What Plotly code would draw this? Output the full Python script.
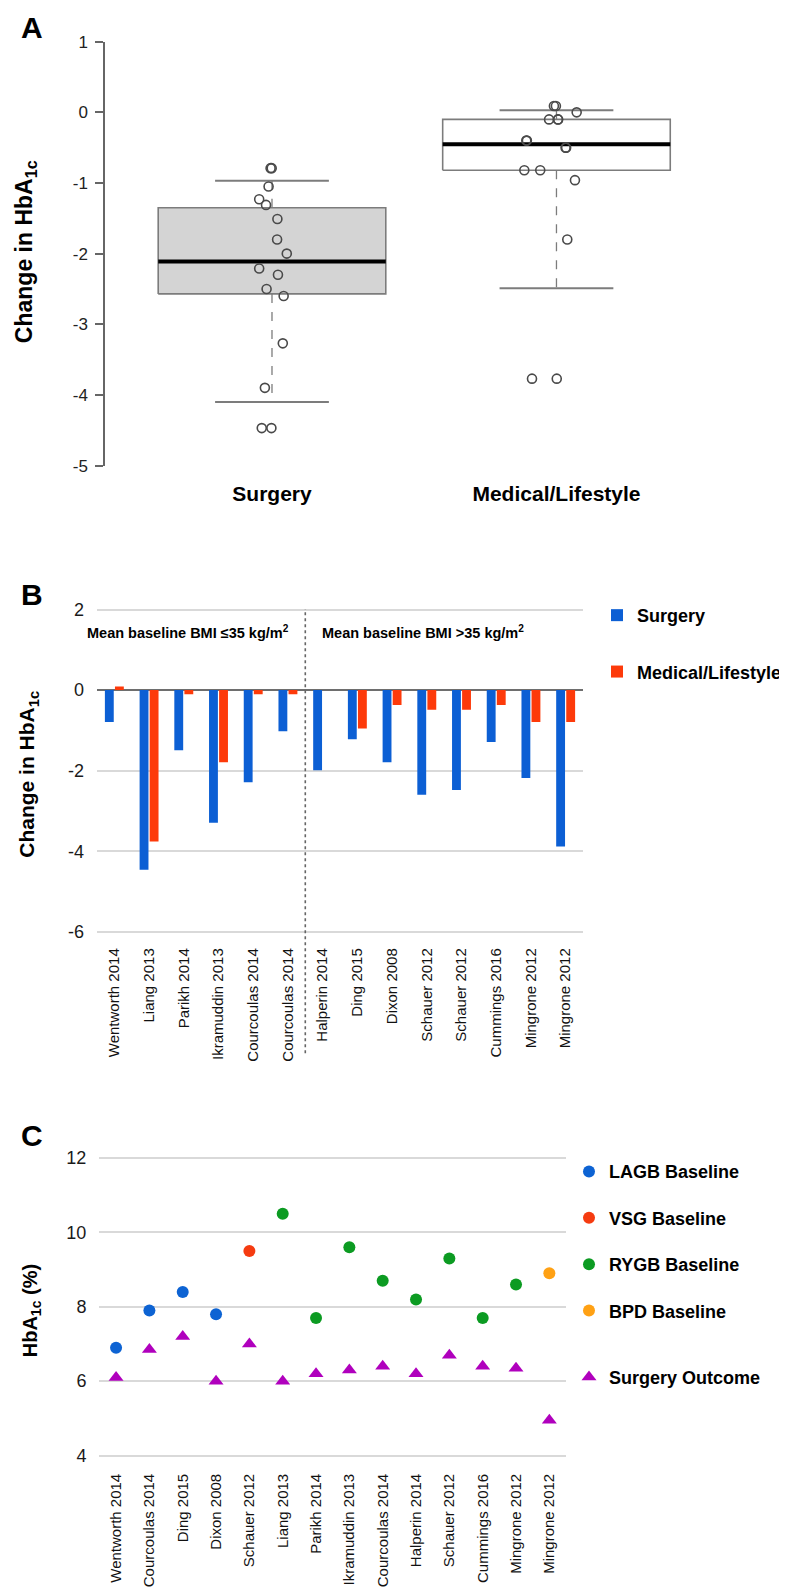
import plotly.graph_objects as go

PAGE_W, PAGE_H = 787, 1590
BODY_MARGIN = 8  # default page margin around the plot div
W, H = PAGE_W - BODY_MARGIN, PAGE_H - BODY_MARGIN

# ---------------- Panel A data ----------------
groups_a = ["Surgery", "Medical/Lifestyle"]
q1_a = [-2.57, -0.82]
median_a = [-2.11, -0.45]
q3_a = [-1.35, -0.10]
lower_whisker_a = [-4.10, -2.49]
upper_whisker_a = [-0.97, 0.03]
surgery_points = [-0.79, -0.79, -1.05, -1.23, -1.31, -1.51, -1.80, -2.00,
                  -2.21, -2.30, -2.50, -2.60, -3.27, -3.90, -4.47, -4.47]
surgery_jitter = [-0.005, -0.001, -0.012, -0.045, -0.021, 0.019, 0.018, 0.052,
                  -0.045, 0.021, -0.019, 0.041, 0.038, -0.025, -0.036, -0.002]
medical_points = [0.09, 0.09, 0.00, -0.10, -0.10, -0.10, -0.40, -0.40,
                  -0.50, -0.50, -0.82, -0.82, -0.96, -1.80, -3.77, -3.77]
medical_jitter = [-0.009, -0.002, 0.071, -0.026, 0.005, 0.006, -0.106, -0.104,
                  0.032, 0.034, -0.113, -0.057, 0.065, 0.038, -0.086, 0.001]
ticks_a = [1, 0, -1, -2, -3, -4, -5]

# ---------------- Panel B data ----------------
studies_b = ["Wentworth 2014", "Liang 2013", "Parikh 2014", "Ikramuddin 2013",
             "Courcoulas 2014", "Courcoulas 2014", "Halperin 2014", "Ding 2015",
             "Dixon 2008", "Schauer 2012", "Schauer 2012", "Cummings 2016",
             "Mingrone 2012", "Mingrone 2012"]
surgery_b = [-0.79, -4.46, -1.49, -3.29, -2.29, -1.02, -1.99, -1.22,
             -1.79, -2.60, -2.48, -1.29, -2.18, -3.88]
medical_b = [0.09, -3.76, -0.10, -1.79, -0.10, -0.10, None, -0.95,
             -0.37, -0.49, -0.49, -0.37, -0.79, -0.79]
n_low_bmi = 6
ticks_b = [2, 0, -2, -4, -6]

# ---------------- Panel C data ----------------
studies_c = ["Wentworth 2014", "Courcoulas 2014", "Ding 2015", "Dixon 2008",
             "Schauer 2012", "Liang 2013", "Parikh 2014", "Ikramuddin 2013",
             "Courcoulas 2014", "Halperin 2014", "Schauer 2012", "Cummings 2016",
             "Mingrone 2012", "Mingrone 2012"]
procedure_c = ["LAGB", "LAGB", "LAGB", "LAGB", "VSG", "RYGB", "RYGB", "RYGB",
               "RYGB", "RYGB", "RYGB", "RYGB", "RYGB", "BPD"]
baseline_c = [6.9, 7.9, 8.4, 7.8, 9.5, 10.5, 7.7, 9.6, 8.7, 8.2, 9.3, 7.7, 8.6, 8.9]
outcome_c = [6.1, 6.85, 7.2, 6.0, 7.0, 6.0, 6.2, 6.3, 6.4, 6.2, 6.7, 6.4, 6.35, 4.95]
procedures = ["LAGB", "VSG", "RYGB", "BPD"]
ticks_c = [12, 10, 8, 6, 4]

# ---------------- styles ----------------
FONT = "Liberation Sans, Arial, Helvetica, sans-serif"
NARROW = "Liberation Sans Narrow, Arial Narrow, Liberation Sans, Arial, sans-serif"
BLUE = "#0c5fd4"
RED = "#fd3a0a"
proc_colors = {"LAGB": "#0d63d3", "VSG": "#f53b10", "RYGB": "#0c9b22", "BPD": "#ffa114"}
MAGENTA = "#b000bd"
BOX_HALF = 0.40
CAP_HALF = 0.20


def px_x(p):
    """page pixel -> paper fraction"""
    return (p - BODY_MARGIN) / W


def px_y(p):
    return 1 - (p - BODY_MARGIN) / H


fig = go.Figure()

# ---------------- Panel A: box plots ----------------
box_fills = ["#d4d4d4", "#ffffff"]
for i in range(len(groups_a)):
    c = i
    fig.add_trace(go.Scatter(
        x=[c - BOX_HALF, c + BOX_HALF, c + BOX_HALF, c - BOX_HALF, c - BOX_HALF],
        y=[q1_a[i], q1_a[i], q3_a[i], q3_a[i], q1_a[i]],
        mode="lines", fill="toself", fillcolor=box_fills[i],
        line=dict(color="#7c7c7c", width=1.6), showlegend=False, hoverinfo="skip",
        xaxis="x", yaxis="y"))
    fig.add_trace(go.Scatter(
        x=[c, c, None, c, c],
        y=[q1_a[i], lower_whisker_a[i], None, q3_a[i], upper_whisker_a[i]],
        mode="lines", line=dict(color="#7c7c7c", width=1.3, dash="dash"),
        showlegend=False, hoverinfo="skip", xaxis="x", yaxis="y"))
    fig.add_trace(go.Scatter(
        x=[c - CAP_HALF, c + CAP_HALF, None, c - CAP_HALF, c + CAP_HALF],
        y=[lower_whisker_a[i], lower_whisker_a[i], None, upper_whisker_a[i], upper_whisker_a[i]],
        mode="lines", line=dict(color="#7c7c7c", width=2),
        showlegend=False, hoverinfo="skip", xaxis="x", yaxis="y"))
    fig.add_trace(go.Scatter(
        x=[c - BOX_HALF, c + BOX_HALF], y=[median_a[i], median_a[i]],
        mode="lines", line=dict(color="#000000", width=4),
        showlegend=False, hoverinfo="skip", xaxis="x", yaxis="y"))

for i, (pts, jit) in enumerate([(surgery_points, surgery_jitter), (medical_points, medical_jitter)]):
    fig.add_trace(go.Scatter(
        x=[i + j for j in jit], y=pts, mode="markers",
        marker=dict(symbol="circle-open", size=9, color="#4a4a4a", line=dict(width=1.6)),
        showlegend=False, xaxis="x", yaxis="y"))

# ---------------- Panel B: grouped bars ----------------
idx_b = list(range(len(studies_b)))
fig.add_trace(go.Bar(x=idx_b, y=surgery_b, name="Surgery", marker=dict(color=BLUE, line=dict(width=0)),
                     xaxis="x2", yaxis="y2", legend="legend", legendgroup="s"))
fig.add_trace(go.Bar(x=idx_b, y=medical_b, name="Medical/Lifestyle", marker=dict(color=RED, line=dict(width=0)),
                     xaxis="x2", yaxis="y2", legend="legend", legendgroup="m"))

# ---------------- Panel C: scatter ----------------
for proc in procedures:
    idx = [k for k, p in enumerate(procedure_c) if p == proc]
    fig.add_trace(go.Scatter(
        x=idx, y=[baseline_c[k] for k in idx], mode="markers", name=f"{proc} Baseline",
        marker=dict(symbol="circle", size=12, color=proc_colors[proc]),
        xaxis="x3", yaxis="y3", legend="legend2", legendgroup=proc))
fig.add_trace(go.Scatter(
    x=list(range(len(studies_c))), y=outcome_c, mode="markers", name="Surgery Outcome",
    marker=dict(symbol="triangle-up", size=13, color=MAGENTA),
    xaxis="x3", yaxis="y3", legend="legend3"))

# ---------------- layout ----------------
tick_font_big = dict(family=FONT, size=18, color="#1a1a1a")
legend_font = dict(family=FONT, size=18, color="#000", weight="bold")
fig.update_layout(
    width=W, height=H, autosize=False,
    margin=dict(l=0, r=0, t=0, b=0),
    paper_bgcolor="white", plot_bgcolor="white",
    barmode="group", bargap=0.42, bargroupgap=0.12,
    font=dict(family=FONT, color="#111111"),
    # Panel A axes
    xaxis=dict(domain=[px_x(105), px_x(730)], range=[-0.587, 1.61],
               tickvals=[0, 1], ticktext=[f"<b>{g}</b>" for g in groups_a],
               tickfont=dict(family=FONT, size=21, color="#000"),
               ticks="outside", ticklen=9, tickcolor="rgba(0,0,0,0)",
               showline=False, showgrid=False, zeroline=False, anchor="y"),
    yaxis=dict(domain=[px_y(462), px_y(33)], range=[-5, 1],
               tickvals=ticks_a, ticktext=[str(t) for t in ticks_a],
               tickfont=dict(family=NARROW, size=17, color="#222"),
               ticks="outside", ticklen=8, tickwidth=1.5, tickcolor="#666",
               showline=True, linecolor="#666", linewidth=1.5,
               showgrid=False, zeroline=False, anchor="x", ticklabelstandoff=4),
    # Panel B axes
    xaxis2=dict(domain=[px_x(97), px_x(583)], range=[-0.5, len(studies_b) - 0.5],
                tickvals=idx_b, ticktext=studies_b, tickangle=-90,
                tickfont=dict(family=FONT, size=15, color="#111"),
                ticks="", showline=False, showgrid=False, zeroline=False,
                anchor="y2", ticklabelstandoff=10),
    yaxis2=dict(domain=[px_y(936.4), px_y(605.3)], range=[-6.06, 2.06],
                tickvals=ticks_b, ticktext=[str(t) for t in ticks_b],
                tickfont=tick_font_big, showgrid=True, gridcolor="#d9d9d9", gridwidth=2,
                zeroline=True, zerolinecolor="#6e6e6e", zerolinewidth=2,
                showline=False, anchor="x2", ticklabelstandoff=12),
    # Panel C axes
    xaxis3=dict(domain=[px_x(99.4), px_x(566)], range=[-0.5, len(studies_c) - 0.5],
                tickvals=list(range(len(studies_c))), ticktext=studies_c, tickangle=-90,
                tickfont=dict(family=FONT, size=15, color="#111"),
                ticks="", showline=False, showgrid=False, zeroline=False,
                anchor="y3", ticklabelstandoff=12),
    yaxis3=dict(domain=[px_y(1466.3), px_y(1160.7)], range=[3.94, 12.06],
                tickvals=ticks_c, ticktext=[str(t) for t in ticks_c],
                tickfont=tick_font_big, showgrid=True, gridcolor="#d9d9d9", gridwidth=2,
                zeroline=False, showline=False, anchor="x3", ticklabelstandoff=12),
    legend=dict(x=px_x(597), y=px_y(595), xanchor="left", yanchor="top",
                font=legend_font, tracegroupgap=30, bgcolor="rgba(0,0,0,0)", borderwidth=0),
    legend2=dict(x=px_x(569), y=px_y(1158), xanchor="left", yanchor="top",
                 font=legend_font, tracegroupgap=20, bgcolor="rgba(0,0,0,0)", borderwidth=0,
                 itemsizing="constant"),
    legend3=dict(x=px_x(569), y=px_y(1366), xanchor="left", yanchor="top",
                 font=legend_font, bgcolor="rgba(0,0,0,0)", borderwidth=0),
)

# divider between BMI groups in panel B
fig.add_shape(type="line", xref="x2", yref="y2 domain",
              x0=n_low_bmi - 0.5, x1=n_low_bmi - 0.5, y0=-0.364, y1=0.994,
              line=dict(color="#666", width=1.6, dash="dot"))

annotations = [
    dict(text="<b>A</b>", x=px_x(32), y=px_y(19)),
    dict(text="<b>B</b>", x=px_x(32), y=px_y(593)),
    dict(text="<b>C</b>", x=px_x(32), y=px_y(1140)),
]
for a in annotations:
    a.update(xref="paper", yref="paper", showarrow=False, xanchor="center", yanchor="middle",
             font=dict(family=FONT, size=30, color="#000"))
    fig.add_annotation(**a)

ytitles = [
    ("<b>Change in HbA<sub>1c</sub></b>", 25, 246, 23),
    ("<b>Change in HbA<sub>1c</sub></b>", 28, 775, 21),
    ("<b>HbA<sub>1c</sub> (%)</b>", 31, 1318, 20),
]
for txt, xx, yy, fs in ytitles:
    fig.add_annotation(text=txt, x=px_x(xx), y=px_y(yy), xref="paper", yref="paper",
                       showarrow=False, textangle=-90, xanchor="center", yanchor="middle",
                       font=dict(family=FONT, size=fs, color="#000"))

fig.add_annotation(text="<b>Mean baseline BMI ≤35 kg/m<sup>2</sup></b>", x=px_x(188), y=px_y(630),
                   xref="paper", yref="paper", showarrow=False, xanchor="center", yanchor="middle",
                   font=dict(family=FONT, size=14.5, color="#000"))
fig.add_annotation(text="<b>Mean baseline BMI >35 kg/m<sup>2</sup></b>", x=px_x(423), y=px_y(630),
                   xref="paper", yref="paper", showarrow=False, xanchor="center", yanchor="middle",
                   font=dict(family=FONT, size=14.5, color="#000"))

fig.write_html("out.html")
